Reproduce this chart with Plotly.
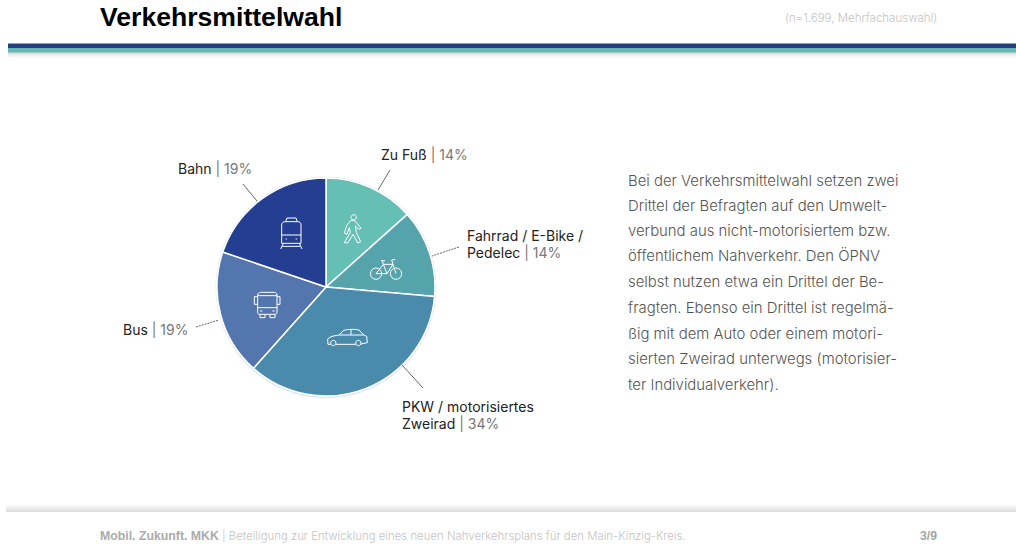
import re
import plotly.graph_objects as go

W, H = 1016, 544

categories = ["Zu Fuß", "Fahrrad / E-Bike / Pedelec", "PKW / motorisiertes Zweirad", "Bus", "Bahn"]
drawn_shares = [13.4, 13.0, 35.2, 18.6, 19.8]
colors = ["#66BFB5", "#55A3AB", "#4A8BAB", "#5476AE", "#243F92"]

title = "Verkehrsmittelwahl"
sample_note = "(n=1.699, Mehrfachauswahl)"
footer_bold = "Mobil. Zukunft. MKK"
footer_text = "Beteiligung zur Entwicklung eines neuen Nahverkehrsplans für den Main-Kinzig-Kreis."
page_no = "3/9"
body_lines = [
    "Bei der Verkehrsmittelwahl setzen zwei",
    "Drittel der Befragten auf den Umwelt-",
    "verbund aus nicht-motorisiertem bzw.",
    "öffentlichem Nahverkehr. Den ÖPNV",
    "selbst nutzen etwa ein Drittel der Be-",
    "fragten. Ebenso ein Drittel ist regelmä-",
    "ßig mit dem Auto oder einem motori-",
    "sierten Zweirad unterwegs (motorisier-",
    "ter Individualverkehr).",
]
body_y = [181, 206, 231, 256, 282, 308, 334, 359, 385]

# (dark lines, grey part of last line, left x, first line centre y)
labels = [
    (["Bahn"], "19%", 178, 168),
    (["Zu Fuß"], "14%", 381, 154),
    (["Fahrrad / E-Bike /", "Pedelec"], "14%", 467, 235),
    (["Bus"], "19%", 123, 329),
    (["PKW / motorisiertes", "Zweirad"], "34%", 402, 406),
]
leaders = [
    (243, 184, 257, 201, "solid"),
    (390, 170, 378, 190, "solid"),
    (459, 247, 432, 256, "2px,1px"),
    (196, 327, 219, 320, "2px,1px"),
    (402, 365, 423, 388, "solid"),
]


def px(x):
    return x / W


def py(y):
    return 1 - y / H


def zoom_path(d):
    """Convert a path given in pixel coordinates of a 3x crop at (215,175) to paper coordinates."""
    nums = iter(re.findall(r"[A-Z]|-?\d+\.?\d*", d))
    out = []
    for tok in nums:
        if tok.isalpha():
            out.append(tok)
        else:
            x = 215 + float(tok) / 3
            y = 175 + float(next(nums)) / 3
            out.append(f"{px(x):.5f},{py(y):.5f}")
    return " ".join(out)


def circ(cx, cy, r):
    k = r * 0.5523
    return (f"M{cx-r} {cy} C{cx-r} {cy-k} {cx-k} {cy-r} {cx} {cy-r} C{cx+k} {cy-r} {cx+r} {cy-k} {cx+r} {cy} "
            f"C{cx+r} {cy+k} {cx+k} {cy+r} {cx} {cy+r} C{cx-k} {cy+r} {cx-r} {cy+k} {cx-r} {cy} Z ")


icons = [
    # train
    "M212 140 L216 129 L243 129 L247 140 M200 150 C200 142 206 140 212 140 L247 140 C253 140 258 142 258 150 "
    "L258 205 L200 205 Z M200 180 L258 180 M212 192 L216 192 M242 192 L246 192 M205 205 L197 222 M253 205 L261 222 "
    "M202 214 L256 214",
    # pedestrian
    circ(416, 127, 8) +
    "M408 136 L396 150 L388 174 L396 178 L403 158 L406 172 L388 203 L398 204 L414 178 L421 190 L428 204 L437 200 "
    "L424 172 L421 152 L431 163 L438 160 L424 142 L416 136 Z",
    # bicycle
    circ(483, 296, 17) + circ(543, 296, 17) +
    "M483 296 L505 268 L534 268 L543 296 M505 268 L516 296 L483 296 M516 296 L534 268 M498 257 L510 257 "
    "M505 268 L502 257 M534 268 L530 255 L541 253",
    # car
    circ(355, 504, 8) + circ(430, 504, 8) +
    "M347 508 L339 508 L338 492 C345 483 362 482 373 480 L386 466 C400 462 420 462 432 465 L446 480 L455 484 "
    "L457 503 L438 507 M422 508 L363 508 M373 480 L446 480 M408 463 L408 480",
    # bus
    "M137 352 L178 352 C183 352 186 356 186 360 L186 412 C186 416 183 418 180 418 L134 418 C130 418 128 416 128 412 "
    "L128 360 C128 356 132 352 137 352 Z M128 398 L186 398 M128 362 L186 362 M128 365 L118 365 L118 388 L128 388 "
    "M186 365 L195 365 L195 388 L186 388 M135 408 L142 408 M172 408 L179 408 "
    "M135 418 L135 428 L150 428 L150 418 M165 418 L165 428 L180 428 L180 418",
]

shapes = []


def rect(x0, y0, x1, y1, color):
    shapes.append(dict(type="rect", xref="paper", yref="paper", x0=px(x0), x1=px(x1), y0=py(y1), y1=py(y0),
                       fillcolor=color, line=dict(width=0), layer="below"))


# header band with soft shadow
rect(8, 43.5, W, 48, "#26407F")
rect(8, 48, W, 52, "#62B8B4")
for i, c in enumerate(["#A9C9C3", "#D5DEDB", "#E8EAE9", "#F1F1F1", "#F6F6F6", "#FBFBFB"]):
    rect(8, 52 + i, W, 53 + i, c)
# footer shadow
for i, c in enumerate(["#FCFCFC", "#F9F9F9", "#F5F5F5", "#F1F1F1", "#ECECEC", "#E7E7E7", "#E2E2E2", "#DEDEDE"]):
    rect(6, 504 + i, W, 505 + i, c)

# halo behind the pie
shapes.append(dict(type="circle", xref="paper", yref="paper", x0=px(215.5), x1=px(436.5), y0=py(398.5), y1=py(176.5),
                   fillcolor="#E3ECEC", line=dict(width=0), layer="below"))

for x0, y0, x1, y1, dash in leaders:
    shapes.append(dict(type="line", xref="paper", yref="paper", x0=px(x0), y0=py(y0), x1=px(x1), y1=py(y1),
                       line=dict(color="#666666", width=1, dash=dash)))

for d in icons:
    shapes.append(dict(type="path", xref="paper", yref="paper", path=zoom_path(d),
                       line=dict(color="white", width=1), fillcolor="rgba(0,0,0,0)"))

annotations = []


def text(x, y, s, size, color, anchor="left", family="Inter", weight=None):
    annotations.append(dict(xref="paper", yref="paper", x=px(x), y=py(y), text=s, showarrow=False,
                            xanchor=anchor, yanchor="middle", align=anchor,
                            font=dict(size=size, color=color, family=family, weight=weight),
                            borderpad=0, borderwidth=0))


text(100, 17, title, 26.6, "#000000", family="Liberation Sans", weight="bold")
text(937, 18, sample_note, 11.5, "#C4C4C4", anchor="right", family="Inter", weight=300)
for s, y in zip(body_lines, body_y):
    text(628, y, s, 14.9, "#555555", weight=300)
for lines, pct, x, y in labels:
    for i, ln in enumerate(lines):
        if i == len(lines) - 1:
            s = f"<span style='color:#222222'>{ln}</span><span style='color:#777777'> | {pct}</span>"
        else:
            s = ln
        text(x, y + 17 * i, s, 14, "#222222", weight=400)
text(100, 536, f"<b>{footer_bold}</b>", 12.3, "#ABABAB", family="Liberation Sans")
text(222, 536, "| " + footer_text, 11.4, "#C4C4C4", weight=300)
text(937, 536, f"<b>{page_no}</b>", 12.3, "#A5A5A5", anchor="right", family="Liberation Sans")

fig = go.Figure(go.Pie(
    labels=categories,
    values=drawn_shares,
    sort=False,
    direction="clockwise",
    rotation=0,
    textinfo="none",
    hoverinfo="label",
    marker=dict(colors=colors, line=dict(color="white", width=1.5)),
    domain=dict(x=[px(217), px(435)], y=[py(396), py(178)]),
    showlegend=False,
))
fig.update_layout(
    width=W, height=H, margin=dict(l=0, r=0, t=0, b=0),
    paper_bgcolor="white", plot_bgcolor="white",
    shapes=shapes, annotations=annotations, showlegend=False,
)
fig.write_html("out.html", post_script="document.body.style.margin='0';document.body.style.overflow='hidden';",
               config=dict(displayModeBar=False))
